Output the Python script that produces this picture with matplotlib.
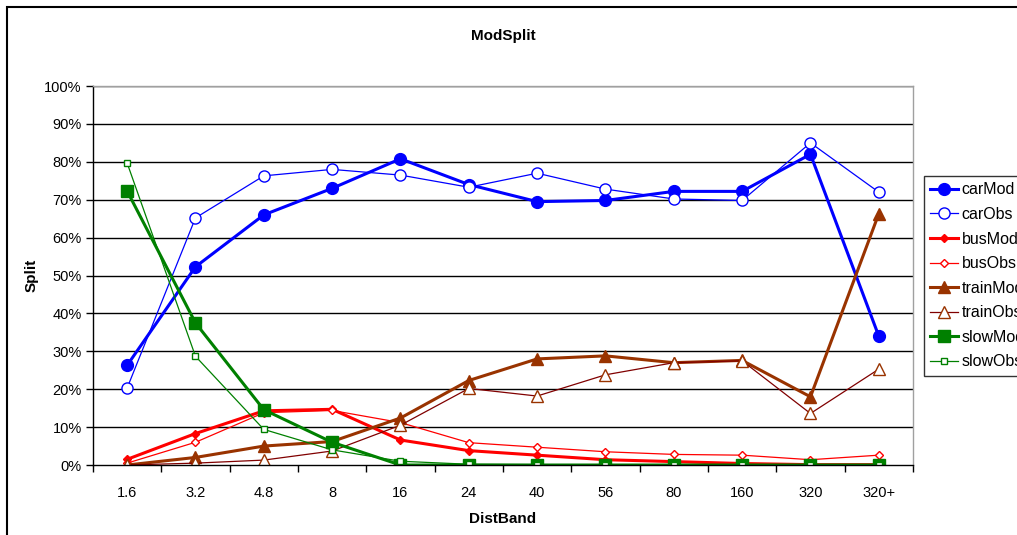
import numpy as np
import matplotlib
matplotlib.use("Agg")
import matplotlib.pyplot as plt
from matplotlib.patches import Rectangle

plt.rcParams['font.family'] = ['Liberation Sans', 'DejaVu Sans']

# Distance bands (categories on the x axis)
bands = ['1.6', '3.2', '4.8', '8', '16', '24', '40', '56', '80', '160', '320', '320+']

# Mode split values, in percent
car_mod = [26.3, 52.3, 66.0, 73.0, 80.8, 74.0, 69.5, 69.8, 72.2, 72.2, 82.0, 34.0]
car_obs = [20.3, 65.2, 76.3, 78.0, 76.5, 73.3, 77.0, 72.8, 70.2, 69.8, 85.0, 72.0]
bus_mod = [1.5, 8.3, 14.3, 14.7, 6.6, 3.8, 2.6, 1.4, 0.9, 0.4, 0.1, 0.1]
bus_obs = [0.5, 6.0, 13.8, 14.4, 11.2, 5.9, 4.7, 3.5, 2.8, 2.6, 1.4, 2.6]
train_mod = [0.0, 2.0, 5.0, 6.2, 12.4, 22.3, 28.0, 28.8, 27.0, 27.6, 18.0, 66.3]
train_obs = [0.0, 0.5, 1.3, 3.7, 10.5, 20.2, 18.2, 23.8, 27.0, 27.5, 13.6, 25.3]
slow_mod = [72.3, 37.5, 14.6, 6.0, 0.0, 0.0, 0.0, 0.0, 0.0, 0.0, 0.0, 0.0]
slow_obs = [79.7, 28.7, 9.4, 4.0, 1.0, 0.2, 0.1, 0.1, 0.1, 0.1, 0.1, 0.1]

fig = plt.figure(figsize=(10.17, 5.35), dpi=100)
ax = fig.add_axes([0.0914, 0.1308, 0.8063, 0.7084])

x = np.arange(len(bands))

# series drawn in legend order (later ones on top, like Excel)
ax.plot(x, car_mod, color='#0000FF', lw=2.2, marker='o', ms=8.5, mfc='#0000FF', mec='#0000FF', label='carMod')
ax.plot(x, car_obs, color='#0000FF', lw=0.9, marker='o', ms=8, mfc='white', mec='#0000FF', mew=1, label='carObs')
ax.plot(x, bus_mod, color='#FF0000', lw=2.2, marker='D', ms=4, mfc='#FF0000', mec='#FF0000', label='busMod')
ax.plot(x, bus_obs, color='#FF0000', lw=0.9, marker='D', ms=4, mfc='white', mec='#FF0000', mew=1, label='busObs')
ax.plot(x, train_mod, color='#993300', lw=2.2, marker='^', ms=9, mfc='#993300', mec='#993300', label='trainMod')
ax.plot(x, train_obs, color='#800000', lw=0.9, marker='^', ms=9, mfc='white', mec='#993300', mew=1, label='trainObs')
ax.plot(x, slow_mod, color='#008000', lw=2.2, marker='s', ms=8, mfc='#008000', mec='#008000', label='slowMod')
ax.plot(x, slow_obs, color='#008000', lw=0.9, marker='s', ms=4.5, mfc='white', mec='#008000', mew=1, label='slowObs')

ax.set_xlim(-0.5, len(bands) - 0.5)
ax.set_ylim(0, 100)
ax.set_yticks(np.arange(0, 101, 10))
ax.set_yticklabels([f'{v}%' for v in range(0, 101, 10)])
ax.set_xticks(x)
ax.set_xticklabels(bands)
ax.set_xticks(np.arange(-0.5, len(bands), 1), minor=True)
ax.tick_params(axis='x', which='major', length=0, pad=15, labelsize=10.5)
ax.tick_params(axis='x', which='minor', length=5, width=1, color='black')
ax.tick_params(axis='y', length=5, width=1, labelsize=10.5, pad=3)

for v in range(10, 101, 10):
    ax.axhline(v, color='black', lw=1, zorder=0.5)

ax.spines['left'].set_color('black')
ax.spines['bottom'].set_color('black')
ax.spines['top'].set_color('#A0A0A0')
ax.spines['right'].set_color('#A0A0A0')
for s in ax.spines.values():
    s.set_linewidth(1)

ax.set_title('ModSplit', fontsize=11, fontweight='bold', pad=33)
ax.set_ylabel('Split', fontsize=11, fontweight='bold', labelpad=4)
ax.set_xlabel('DistBand', fontsize=11, fontweight='bold', labelpad=9)

leg = fig.legend(loc='upper left', bbox_to_anchor=(924 / 1017, 1 - 176 / 535),
                 frameon=True, fancybox=False, edgecolor='black', fontsize=11.5,
                 handlelength=1.75, labelspacing=0.6, borderpad=0.4,
                 borderaxespad=0, handletextpad=0.2)
leg.get_frame().set_linewidth(1)

# outer chart border, running off the right and bottom edges
fig.add_artist(Rectangle((7 / 1017, -0.2), 1.2, 1.2 - 7 / 535, transform=fig.transFigure,
                         fill=False, edgecolor='black', lw=1.5))

fig.savefig('out.png', dpi=100)
